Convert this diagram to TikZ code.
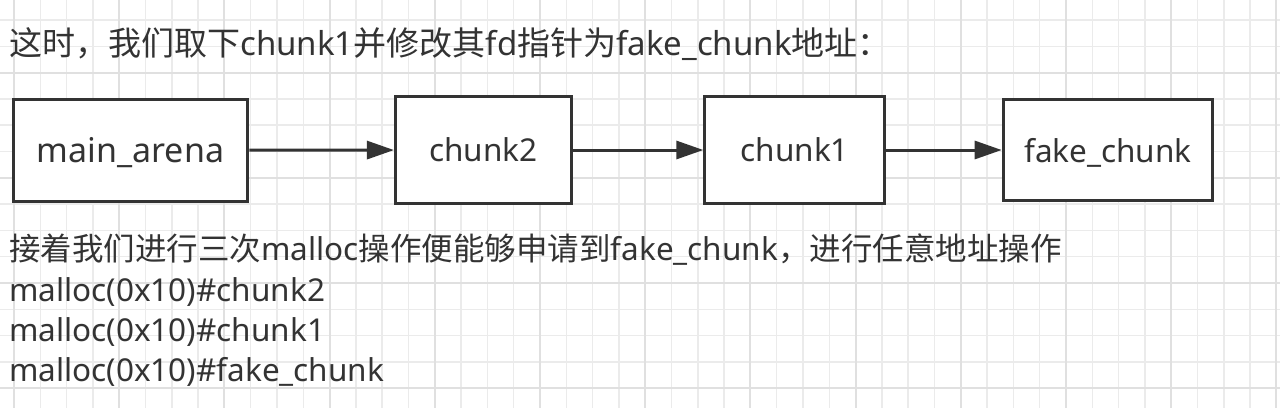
\documentclass[tikz,border=0pt]{standalone}
\usepackage{fontspec}
\setmainfont{Noto Sans}
\newfontfamily\cjk{Noto Sans CJK SC}
\newcommand\zh[1]{{\cjk #1}}
\usetikzlibrary{arrows.meta}
\definecolor{ink}{HTML}{333333}
\definecolor{gridminor}{HTML}{EBEBEB}
\definecolor{gridmajor}{HTML}{E0E0E0}

\begin{document}
\begin{tikzpicture}[x=1pt, y=-1pt, >={Triangle[length=27pt,width=18pt]},
  box/.style={draw=ink, line width=3pt, fill=white, text=ink, inner sep=0pt, text depth=0pt, font=\fontsize{31.5}{36}\selectfont},
  flow/.style={->, draw=ink, line width=3pt},
  txt/.style={anchor=base west, inner sep=0pt, text=ink, font=\fontsize{31.5}{36}\selectfont}]

% background grid
\fill[white] (0,0) rectangle (1280,408);
\useasboundingbox (0,0) rectangle (1280,408);
\foreach \k in {0,...,48} \draw[gridminor, line width=1.5pt] (14+26.3*\k,0) -- (14+26.3*\k,408);
\foreach \k in {0,...,14} \draw[gridminor, line width=1.5pt] (0,20+26.3*\k) -- (1280,20+26.3*\k);
\foreach \k in {0,4,...,48} \draw[gridmajor, line width=2pt] (14+26.3*\k,0) -- (14+26.3*\k,408);
\foreach \k in {2,6,10,14} \draw[gridmajor, line width=2pt] (0,20+26.3*\k) -- (1280,20+26.3*\k);

% title
\node[txt, font=\fontsize{33}{38}\selectfont] (title) at (9,55) {\zh{这时，我们取下}chunk1\zh{并修改其}fd\zh{指针为}fake\_chunk\zh{地址：}};

% the list
\node[box, minimum width=234.6pt, minimum height=102pt, font=\fontsize{34}{38}\selectfont] (arena) at (130.5,150.2) {main\_arena};
\node[box, minimum width=175.7pt, minimum height=107pt] (chunktwo) at (483.3,150) {chunk2};
\node[box, minimum width=179.7pt, minimum height=107pt] (chunkone) at (794.7,150) {chunk1};
\node[box, minimum width=209.6pt, minimum height=100.4pt] (fake) at (1108,150) {fake\_chunk};
\draw[flow] (arena) -- (chunktwo);
\draw[flow] (chunktwo) -- (chunkone);
\draw[flow] (chunkone) -- (fake);

% text below
\node[txt] (note) at (9,260) {\zh{接着我们进行三次}malloc\zh{操作便能够申请到}fake\_chunk\zh{，进行任意地址操作}};
\node[txt] (mone) at (9,301) {malloc(0x10)\#chunk2};
\node[txt] (mtwo) at (9,341.5) {malloc(0x10)\#chunk1};
\node[txt] (mthree) at (9,381.7) {malloc(0x10)\#fake\_chunk};

\end{tikzpicture}
\end{document}
